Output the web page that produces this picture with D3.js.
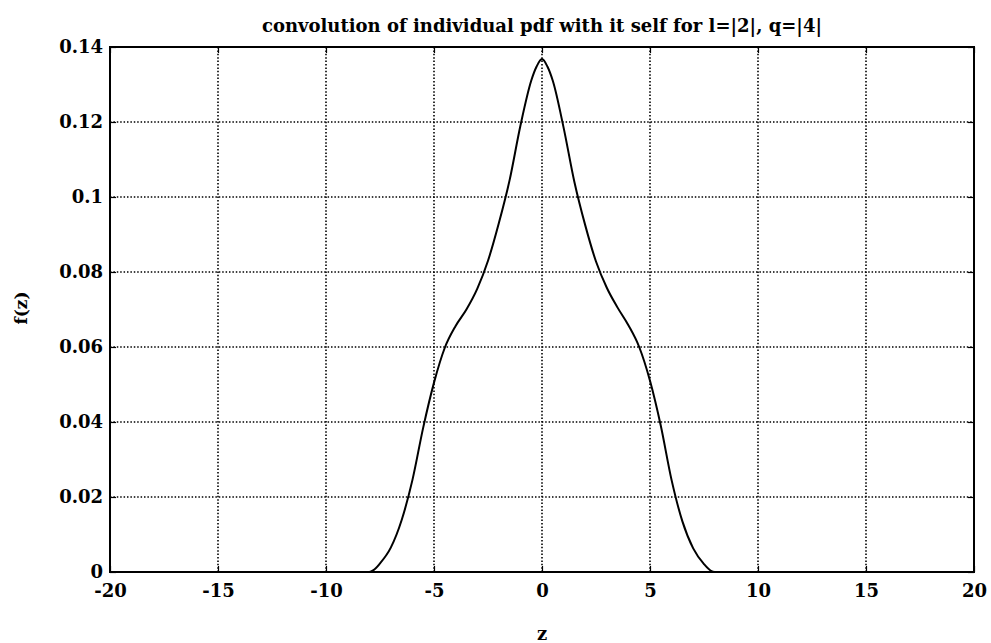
<!DOCTYPE html>
<html>
<head>
<meta charset="utf-8">
<script src="https://cdn.jsdelivr.net/npm/d3@7/dist/d3.min.js"></script>
<style>
  html, body { margin: 0; padding: 0; background: #fff; }
  svg { display: block; }
  text { font-family: "DejaVu Serif", "Liberation Serif", serif; font-weight: bold; fill: #000; }
</style>
</head>
<body>
<svg id="chart" width="991" height="643"></svg>
<script>
// ---- data ----
const titleText = "convolution of individual pdf with it self for l=|2|, q=|4|";
const xLabel = "z";
const yLabel = "f(z)";
const xTicks = [-20, -15, -10, -5, 0, 5, 10, 15, 20];
const xTickLabels = ["-20", "-15", "-10", "-5", "0", "5", "10", "15", "20"];
const yTicks = [0, 0.02, 0.04, 0.06, 0.08, 0.1, 0.12, 0.14];
const yTickLabels = ["0", "0.02", "0.04", "0.06", "0.08", "0.1", "0.12", "0.14"];
const zValues = [-20, -8, -7.8, -7.5, -7, -6.5, -6, -5.5, -5, -4.5, -4, -3.5, -3, -2.5, -2, -1.5, -1, -0.5, -0.25, 0,
                 0.25, 0.5, 1, 1.5, 2, 2.5, 3, 3.5, 4, 4.5, 5, 5.5, 6, 6.5, 7, 7.5, 7.8, 8, 20];
const fValues = [0, 0, 0.0005, 0.0023, 0.0065, 0.0138, 0.0245, 0.0385, 0.0505, 0.0598, 0.0656, 0.0700, 0.0755, 0.0830, 0.0930, 0.1045, 0.1190, 0.1310, 0.1348, 0.1368,
                 0.1348, 0.1310, 0.1185, 0.1040, 0.0925, 0.0828, 0.0758, 0.0705, 0.0658, 0.0600, 0.0510, 0.0390, 0.0245, 0.0135, 0.0063, 0.0021, 0.0004, 0, 0];

// ---- layout ----
const svg = d3.select("#chart");
const pL = 110, pR = 974, pT = 47, pB = 572;
const x = d3.scaleLinear().domain([-20, 20]).range([pL, pR]);
const y = d3.scaleLinear().domain([0, 0.14]).range([pB, pT]);

// grid
const grid = svg.append("g");
grid.selectAll("line.vx").data(xTicks.slice(1, -1)).enter().append("line")
  .attr("x1", d => x(d)).attr("x2", d => x(d)).attr("y1", pT).attr("y2", pB)
  .attr("stroke", "#000").attr("stroke-width", 1.6).attr("stroke-dasharray", "1.5,1.9");
grid.selectAll("line.hy").data(yTicks.slice(1, -1)).enter().append("line")
  .attr("x1", pL).attr("x2", pR).attr("y1", d => y(d)).attr("y2", d => y(d))
  .attr("stroke", "#000").attr("stroke-width", 1.6).attr("stroke-dasharray", "1.5,1.9");

// axes
const xAxisB = d3.axisBottom(x).tickValues(xTicks).tickSize(-6).tickPadding(12).tickFormat((d, i) => xTickLabels[i]);
const xAxisT = d3.axisTop(x).tickValues(xTicks).tickSize(-6).tickFormat("");
const yAxisL = d3.axisLeft(y).tickValues(yTicks).tickSize(-6).tickPadding(7).tickFormat((d, i) => yTickLabels[i]);
const yAxisR = d3.axisRight(y).tickValues(yTicks).tickSize(-6).tickFormat("");

function styleAxis(g) {
  g.select(".domain").remove();
  g.selectAll(".tick line").attr("stroke", "#000").attr("stroke-width", 1.2);
  g.selectAll(".tick text").style("font-size", "18px").style("font-family", "'DejaVu Serif', serif").style("font-weight", "bold");
}
svg.append("g").attr("transform", `translate(0,${pB})`).call(xAxisB).call(styleAxis);
svg.append("g").attr("transform", `translate(0,${pT})`).call(xAxisT).call(styleAxis);
svg.append("g").attr("transform", `translate(${pL},0)`).call(yAxisL).call(styleAxis);
svg.append("g").attr("transform", `translate(${pR},0)`).call(yAxisR).call(styleAxis);

// frame
svg.append("rect").attr("x", pL).attr("y", pT).attr("width", pR - pL).attr("height", pB - pT)
  .attr("fill", "none").attr("stroke", "#000").attr("stroke-width", 2);

// curve
const data = zValues.map((z, i) => ({ z, f: fValues[i] }));
svg.append("path").datum(data)
  .attr("fill", "none").attr("stroke", "#000").attr("stroke-width", 2)
  .attr("d", d3.line().x(d => x(d.z)).y(d => y(d.f)).curve(d3.curveMonotoneX));

// title & labels
svg.append("text").attr("x", (pL + pR) / 2).attr("y", 32).attr("text-anchor", "middle")
  .style("font-size", "18px").text(titleText);
svg.append("text").attr("x", (pL + pR) / 2).attr("y", 640).attr("text-anchor", "middle")
  .style("font-size", "18px").text(xLabel);
svg.append("text").attr("transform", "translate(27,308) rotate(-90)").attr("text-anchor", "middle")
  .style("font-size", "17px").text(yLabel);
</script>
</body>
</html>
